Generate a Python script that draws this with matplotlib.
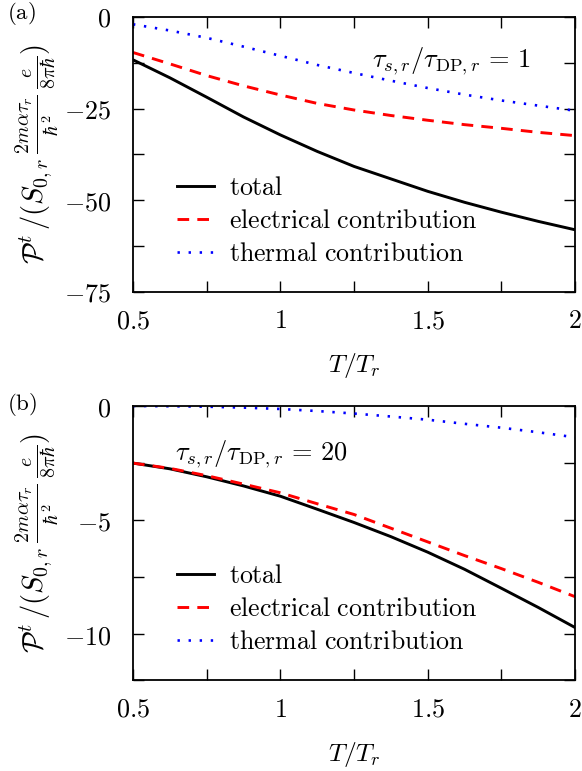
import matplotlib
matplotlib.use("Agg")
import matplotlib.pyplot as plt

plt.rcParams['mathtext.fontset'] = 'cm'
plt.rcParams['font.family'] = 'serif'
plt.rcParams['font.serif'] = ['DejaVu Serif']

# T / T_r
temp = [0.5, 0.625, 0.75, 0.875, 1.0, 1.125, 1.25, 1.375, 1.5, 1.625, 1.75, 1.875, 2.0]

# panel (a): tau_s,r / tau_DP,r = 1
total_a = [-11.7, -16.6, -21.9, -27.3, -32.2, -36.7, -40.8, -44.2, -47.6, -50.6, -53.3, -55.8, -58.1]
elec_a = [-9.7, -12.8, -16.0, -18.8, -21.3, -23.6, -25.4, -26.9, -28.2, -29.4, -30.4, -31.5, -32.4]
therm_a = [-2.0, -3.7, -5.7, -8.1, -10.6, -13.1, -15.3, -17.4, -19.4, -21.2, -22.8, -24.2, -25.6]

# panel (b): tau_s,r / tau_DP,r = 20
total_b = [-2.5, -2.75, -3.1, -3.5, -3.95, -4.52, -5.1, -5.72, -6.4, -7.15, -7.98, -8.82, -9.7]
elec_b = [-2.5, -2.73, -3.05, -3.42, -3.8, -4.28, -4.75, -5.35, -5.95, -6.55, -7.12, -7.72, -8.35]
therm_b = [0.0, -0.01, -0.03, -0.07, -0.13, -0.22, -0.33, -0.46, -0.6, -0.78, -0.95, -1.15, -1.37]

xticks = [0.5, 0.75, 1.0, 1.25, 1.5, 1.75, 2.0]
xlabels = ['$0.5$', '', '$1$', '', '$1.5$', '', '$2$']
yticks_a = [0, -12.5, -25, -37.5, -50, -62.5, -75]
ylabels_a = ['$0$', '', '$-25$', '', '$-50$', '', '$-75$']
yticks_b = [0, -2.5, -5, -7.5, -10, -12]
ylabels_b = ['$0$', '', '$-5$', '', '$-10$', '']

fig = plt.figure(figsize=(5.82, 7.71), dpi=100)
ax_a = fig.add_axes([0.2285, 0.6217, 0.7595, 0.3563])
ax_b = fig.add_axes([0.2285, 0.118, 0.7595, 0.3554])

ylab = r'$\mathcal{P}^t\,/(S_{0,r}\,\frac{2m\alpha\tau_r}{\hbar^2}\,\frac{e}{8\pi\hbar})$'


def draw(ax, tot, el, th, yticks, ylabels, ylim):
    ax.plot(temp, tot, color='black', lw=2.1, label=r'$\mathrm{total}$')
    ax.plot(temp, el, color='red', lw=2.1, ls=(0, (4.0, 2.8)),
            label=r'$\mathrm{electrical\ contribution}$')
    ax.plot(temp, th, color='blue', lw=1.9, ls=(0, (0.9, 3.3)),
            label=r'$\mathrm{thermal\ contribution}$')
    ax.set_xlim(0.5, 2.0)
    ax.set_ylim(*ylim)
    ax.set_xticks(xticks)
    ax.set_xticklabels(xlabels)
    ax.set_yticks(yticks)
    ax.set_yticklabels(ylabels)
    ax.tick_params(direction='in', length=8, width=1.0, top=True, right=True,
                   labelsize=18.8, pad=15.5)
    ax.tick_params(axis='x', pad=12)
    for s in ax.spines.values():
        s.set_linewidth(1.3)
    ax.set_xlabel(r'$T/T_r$', fontsize=18.5, labelpad=13)
    ax.set_ylabel(ylab, fontsize=20.5, labelpad=2)
    ax.legend(loc='lower left', bbox_to_anchor=(0.099, 0.094), frameon=False,
              fontsize=18.6, handlelength=1.43, handletextpad=0.58,
              labelspacing=0.31, borderaxespad=0.0, borderpad=0.0)


draw(ax_a, total_a, elec_a, therm_a, yticks_a, ylabels_a, (-75, 0))
draw(ax_b, total_b, elec_b, therm_b, yticks_b, ylabels_b, (-12, 0))

ax_a.text(0.54, 0.84, r'$\tau_{s,r}/\tau_{\mathrm{DP},r}\,=\,1$', transform=ax_a.transAxes,
          fontsize=19, va='center', ha='left')
ax_b.text(0.095, 0.825, r'$\tau_{s,r}/\tau_{\mathrm{DP},r}\,=\,20$', transform=ax_b.transAxes,
          fontsize=19, va='center', ha='left')

fig.text(0.012, 0.9995, r'$\mathrm{(a)}$', fontsize=16.5, va='top', ha='left')
fig.text(0.012, 0.4935, r'$\mathrm{(b)}$', fontsize=16.5, va='top', ha='left')

fig.savefig('out.png', dpi=100)
